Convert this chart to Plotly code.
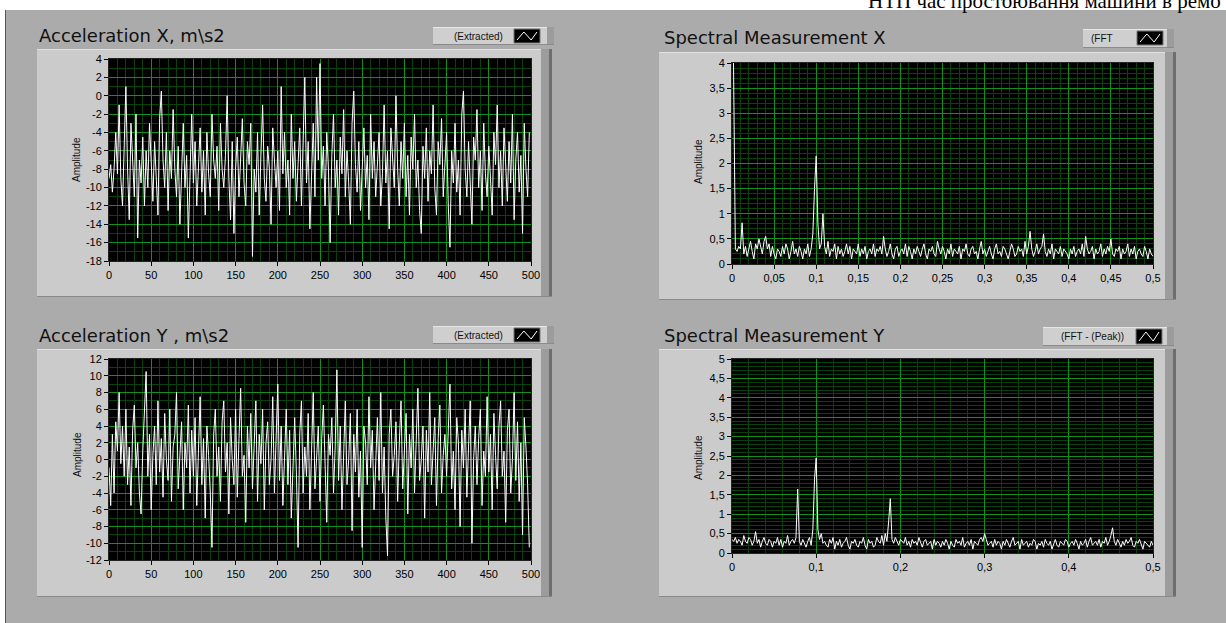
import plotly.graph_objects as go
import numpy as np

W, H = 1226, 623

# ---------------- data ----------------
accel_x = [
    -9, -7.5, -10.5, -8, -4, -8.5, -1, -9, -12, -5, 1, -8, -13.5, -3, -6.5, -11, -2, -15.5, -7, -9.5, -4.5, -12, -6, -10, -3,
    -8, -11.5, -5, -9, -13, -2.5, 0.5, -7, -10, -4, -12.5, -6, -9, -1.5, -8, -11, -5.5, -14, -7, -3, -10, -6.5, -15.5, -8, -2,
    -9.5, -5, -12, -7.5, -3.5, -10.5, -6, -13, -4, -8.5, -11, -2, -7, -9, -5.5, -12.5, -3, -8, -10, -6.5, 0, -9, -13.5, -5, -15,
    -8, -4.5, -11, -6, -2.5, -9.5, -12, -5, -7.5, -3, -17.5, -8, -10.5, -4, -13, -6.5, -1, -9, -11.5, -5.5, -8, -14, -3.5, -7, -10,
    -6, -12.5, 1, -8.5, -4, -10, -7, -13, -2, -9, -5, -11.5, -7.5, -3.5, -12, -6, 2, -9.5, -5, -14.5, -8, -3, -11, 2, -7,
    3.5, -9, -5.5, -12, -4, -8, -16, -6.5, -2, -10, -7, -13, -4.5, -8.5, -1.5, -11, -6, -9.5, -14, -3, 0.5, -7.5, -10.5, -5, -12.5,
    -8, -3.5, -10, -6.5, -13.5, -2, -9, -5, -11, -7, -4, -12, -8.5, -1, -9.5, -6, -14.5, -3.5, -7.5, -10, 0, -8, -12, -5, -9,
    -3, -11, -6.5, -13, -4.5, -8, -2, -10, -7, -12.5, -15, -5.5, -9, -3.5, -11.5, -6, -8.5, -1, -10, -13, -5, -7.5, -2.5, -11, -8,
    -4, -12, -16.5, -6, -9.5, -3, -10.5, -7, -13, -2, 0.5, -8, -11, -5, -9, -14, -4.5, -7, -1.5, -10, -6, -12.5, -3, -8.5, -11,
    -5.5, -9, -13, -4, -7.5, -1, -10, -6, -12, -3.5, -8, -11.5, -5, -9.5, -2, -13.5, -7, -4, -10.5, -6.5, -15, -3, -8, -11, -4,
]
accel_y = [
    -1, -5.5, 3, -4, 4.5, 1, 8, -0.5, 4, -2, 6, -3, 1.5, -5.5, 3.5, 6.5, -1, 2, -4, -6.5, 1, 5, 10.5, -2, 3,
    -6, 0.5, 4, -3, 7, -1.5, 2.5, -4.5, 5.5, 0, -2.5, 6, -5, 1.5, 3, 8, -3.5, 0.5, 4.5, -6, 2, -1, 6.5, -4, 3.5,
    -2, 5, -5.5, 1, 7.5, -3, 2.5, -7, 4, 0.5, -4, -10.5, 3, 6, -2, 1.5, -5, 4.5, 7, -1.5, 2, -6.5, 5, 0, -3,
    6, -4.5, 2.5, 8.5, -2, 0.5, -7.5, 4, -1, 5.5, -3.5, 1, 7, -5, 3, -0.5, 6, -6, 2, 4.5, -3, 0, 7.5, -4, 2.5,
    9, -2.5, 4, -5.5, 1, 6, -3, 3.5, -7, 0.5, 5, -1.5, -10.5, 3, 7, -4, 1.5, -2, 5.5, -6, 2, 8, -3.5, 0, 4,
    -5, 2.5, 6.5, -1, -7.5, 3, 0.5, 5, -4, 1.5, 10.7, -2.5, 4, -6, 2, 7, -3, 0, 5.5, -8.5, 3, -1.5, 6, -4.5, 1,
    -10.5, 4, 2, -3, 7.5, -1, 3.5, -6, 0.5, 5, -2.5, 8, -4, 1.5, -7, -11.5, 3, 6, -2, 0.5, 4.5, -5, 2, 7, -3.5,
    1, 5.5, -6.5, 3, -1, 6, -4, 2, 8.5, -2.5, 0, 4, -7, 3.5, -1.5, 8, -3, 1, 5, -5.5, 2.5, 6.5, -4, 0.5, 3,
    -2, 4.5, 9, -3.5, 1, -6, 5, 2, -8, 3.5, -1, 6, -4.5, 1.5, 7, -10, 0, 4, -3, 2.5, 6, -5.5, 1, -2, 7.5,
    -1.5, 3, -6, 5.5, 0.5, -3.5, 4, 7, -2, 1, -7.5, 3.5, 6, -4, 0, 8, -2.5, 4.5, -5, 2, -9, 5, 1.5, -3, -10.5,
]
spec_x = [
    7.0, 2.8, 0.3, 0.25, 0.35, 0.3, 0.82, 0.2, 0.35, 0.15, 0.3, 0.45, 0.25, 0.1, 0.4, 0.3, 0.5, 0.35, 0.2, 0.45, 0.55, 0.3, 0.4, 0.15, 0.35,
    0.2, 0.1, 0.3, 0.25, 0.15, 0.35, 0.2, 0.4, 0.3, 0.1, 0.25, 0.45, 0.2, 0.3, 0.15, 0.35, 0.25, 0.1, 0.3, 0.2, 0.4, 0.15, 0.3, 0.6, 1.5,
    2.15, 0.8, 0.3, 0.4, 1.0, 0.35, 0.2, 0.45, 0.15, 0.3, 0.25, 0.4, 0.1, 0.35, 0.2, 0.3, 0.15, 0.25, 0.4, 0.2, 0.35, 0.1, 0.3, 0.25, 0.2,
    0.4, 0.15, 0.3, 0.2, 0.35, 0.1, 0.25, 0.3, 0.2, 0.4, 0.15, 0.3, 0.25, 0.35, 0.2, 0.55, 0.3, 0.15, 0.25, 0.4, 0.2, 0.1, 0.3, 0.35, 0.15,
    0.25, 0.3, 0.2, 0.4, 0.15, 0.35, 0.25, 0.1, 0.3, 0.2, 0.35, 0.25, 0.15, 0.3, 0.4, 0.2, 0.1, 0.3, 0.25, 0.35, 0.2, 0.15, 0.45, 0.3, 0.2,
    0.35, 0.25, 0.1, 0.3, 0.2, 0.4, 0.15, 0.3, 0.25, 0.2, 0.35, 0.1, 0.3, 0.25, 0.4, 0.2, 0.15, 0.3, 0.35, 0.2, 0.25, 0.1, 0.3, 0.45, 0.2,
    0.3, 0.15, 0.25, 0.35, 0.2, 0.1, 0.3, 0.4, 0.2, 0.25, 0.15, 0.35, 0.3, 0.2, 0.1, 0.25, 0.4, 0.3, 0.15, 0.2, 0.35, 0.25, 0.3, 0.15, 0.45,
    0.2, 0.35, 0.65, 0.3, 0.15, 0.25, 0.4, 0.2, 0.3, 0.35, 0.6, 0.25, 0.15, 0.3, 0.2, 0.4, 0.1, 0.3, 0.25, 0.2, 0.35, 0.15, 0.3, 0.25, 0.2,
    0.1, 0.3, 0.2, 0.35, 0.15, 0.25, 0.3, 0.2, 0.4, 0.15, 0.55, 0.3, 0.2, 0.25, 0.35, 0.1, 0.3, 0.2, 0.25, 0.4, 0.15, 0.3, 0.2, 0.35, 0.25,
    0.5, 0.2, 0.15, 0.3, 0.25, 0.35, 0.1, 0.3, 0.2, 0.25, 0.4, 0.15, 0.3, 0.2, 0.35, 0.1, 0.25, 0.3, 0.2, 0.15, 0.35, 0.25, 0.1, 0.3, 0.2, 0.15,
]
spec_y = [
    0.35, 0.3, 0.4, 0.25, 0.35, 0.3, 0.2, 0.45, 0.3, 0.25, 0.4, 0.35, 0.2, 0.3, 0.55, 0.25, 0.35, 0.15, 0.3, 0.4, 0.25, 0.2, 0.35, 0.3, 0.15,
    0.3, 0.25, 0.4, 0.2, 0.35, 0.15, 0.3, 0.25, 0.45, 0.2, 0.3, 0.35, 0.25, 0.4, 1.65, 0.3, 0.2, 0.35, 0.25, 0.15, 0.3, 0.4, 0.2, 0.6, 1.9,
    2.45, 0.6, 0.35, 0.5, 0.25, 0.3, 0.2, 0.15, 0.35, 0.25, 0.4, 0.1, 0.3, 0.2, 0.35, 0.15, 0.25, 0.3, 0.4, 0.2, 0.1, 0.3, 0.25, 0.35, 0.2,
    0.15, 0.3, 0.25, 0.4, 0.2, 0.1, 0.35, 0.25, 0.3, 0.15, 0.2, 0.4, 0.3, 0.25, 0.45, 0.2, 0.5, 0.3, 0.8, 1.4, 0.35, 0.25, 0.4, 0.3, 0.2,
    0.35, 0.3, 0.25, 0.4, 0.2, 0.3, 0.15, 0.35, 0.25, 0.3, 0.2, 0.4, 0.25, 0.15, 0.3, 0.35, 0.2, 0.25, 0.3, 0.1, 0.35, 0.2, 0.3, 0.25, 0.15,
    0.3, 0.2, 0.35, 0.25, 0.1, 0.3, 0.2, 0.15, 0.35, 0.25, 0.3, 0.2, 0.4, 0.15, 0.25, 0.3, 0.2, 0.35, 0.1, 0.3, 0.25, 0.2, 0.35, 0.4, 0.3,
    0.5, 0.35, 0.2, 0.25, 0.3, 0.15, 0.35, 0.2, 0.3, 0.25, 0.1, 0.3, 0.2, 0.35, 0.25, 0.15, 0.3, 0.4, 0.2, 0.25, 0.3, 0.1, 0.35, 0.2, 0.25,
    0.3, 0.15, 0.25, 0.2, 0.35, 0.3, 0.1, 0.25, 0.2, 0.3, 0.15, 0.35, 0.25, 0.2, 0.3, 0.1, 0.25, 0.35, 0.2, 0.15, 0.3, 0.25, 0.2, 0.35, 0.3,
    0.15, 0.25, 0.3, 0.2, 0.35, 0.25, 0.1, 0.3, 0.2, 0.25, 0.35, 0.15, 0.3, 0.4, 0.2, 0.25, 0.3, 0.2, 0.35, 0.15, 0.3, 0.25, 0.4, 0.2, 0.3,
    0.45, 0.65, 0.3, 0.2, 0.35, 0.25, 0.15, 0.3, 0.2, 0.35, 0.25, 0.3, 0.4, 0.2, 0.15, 0.3, 0.25, 0.35, 0.2, 0.1, 0.3, 0.25, 0.2, 0.15, 0.3, 0.2,
]
time_step = 2          # samples of the acceleration records
freq_step = 0.002      # spectral bin width

titles = ["Acceleration X, m\\s2", "Spectral Measurement X",
          "Acceleration Y , m\\s2", "Spectral Measurement Y"]
legend_labels = ["(Extracted)", "(FFT", "(Extracted)", "(FFT - (Peak))"]
y_title = "Amplitude"
header_text = "НТП час простоювання машини в ремо"

time_ticks = [0, 50, 100, 150, 200, 250, 300, 350, 400, 450, 500]
time_ticklabels = ["0", "50", "100", "150", "200", "250", "300", "350", "400", "450", "500"]
freqx_ticks = [0, 0.05, 0.1, 0.15, 0.2, 0.25, 0.3, 0.35, 0.4, 0.45, 0.5]
freqx_ticklabels = ["0", "0,05", "0,1", "0,15", "0,2", "0,25", "0,3", "0,35", "0,4", "0,45", "0,5"]
freqy_ticks = [0, 0.1, 0.2, 0.3, 0.4, 0.5]
freqy_ticklabels = ["0", "0,1", "0,2", "0,3", "0,4", "0,5"]
ax_yticks = [4, 2, 0, -2, -4, -6, -8, -10, -12, -14, -16, -18]
ay_yticks = [12, 10, 8, 6, 4, 2, 0, -2, -4, -6, -8, -10, -12]
sx_yticks = [0, 0.5, 1, 1.5, 2, 2.5, 3, 3.5, 4]
sx_yticklabels = ["0", "0,5", "1", "1,5", "2", "2,5", "3", "3,5", "4"]
sy_yticks = [0, 0.5, 1, 1.5, 2, 2.5, 3, 3.5, 4, 4.5, 5]
sy_yticklabels = ["0", "0,5", "1", "1,5", "2", "2,5", "3", "3,5", "4", "4,5", "5"]

# ---------------- styling ----------------
BG = "#ababab"
PANEL = "#cbcbcb"
STRIPE = "#9c9c9c"
STRIPE_DARK = "#6e6e6e"
GRID_MAJOR = "#11901a"
GRID_MINOR = "#0a420c"
FONT = "Liberation Sans"
TITLE_FONT = "DejaVu Sans"


def fx(p):
    return p / W


def fy(p):
    return 1 - p / H


def rect(x0, y0, x1, y1, color, layer="below"):
    return dict(type="rect", xref="paper", yref="paper", x0=fx(x0), x1=fx(x1),
                y0=fy(y1), y1=fy(y0), fillcolor=color, line=dict(width=0), layer=layer)


def hline(x0, x1, y, color):
    return dict(type="line", xref="paper", yref="paper", x0=fx(x0), x1=fx(x1),
                y0=fy(y), y1=fy(y), line=dict(color=color, width=1), layer="below")


panels = [
    dict(plot=(109, 59, 531, 261), panel=(37, 49, 541, 297), legend=(433, 27, 547, 45),
         icon=(514, 29, 540, 43), title=(37, 35), amp=(77, 160), legx=478),
    dict(plot=(732, 63, 1153, 264), panel=(659, 52, 1165, 300), legend=(1083, 29, 1167, 48),
         icon=(1137, 31, 1163, 45), title=(662, 38), amp=(698, 162), legx=1102),
    dict(plot=(109, 359, 531, 560), panel=(37, 349, 541, 597), legend=(433, 326, 547, 344),
         icon=(514, 328, 540, 342), title=(37, 335), amp=(77, 455), legx=478),
    dict(plot=(732, 359, 1153, 553), panel=(659, 349, 1165, 597), legend=(1043, 327, 1167, 346),
         icon=(1136, 329, 1162, 344), title=(662, 335), amp=(698, 458), legx=1092),
]

shapes = []
# page background
shapes.append(rect(6, 10, W, H, BG))
shapes.append(dict(type="line", xref="paper", yref="paper", x0=fx(5.5), x1=fx(5.5), y0=fy(10), y1=fy(H),
                   line=dict(color="#555555", width=1), layer="below"))
for p in panels:
    x0, y0, x1, y1 = p["panel"]
    shapes.append(rect(x0, y0, x1, y1, PANEL))
    shapes.append(rect(x1, y0, x1 + 8, y1, STRIPE))
    shapes.append(rect(x1 + 8, y0, x1 + 11, y1, STRIPE_DARK))
    shapes.append(hline(x0, x1, y0 + 0.5, "#e2e2e2"))
    shapes.append(hline(x0, x1 + 11, y1 - 0.5, "#8a8a8a"))
    # black plotting area (drawn under the grid)
    px0, py0, px1, py1 = p["plot"]
    shapes.append(rect(px0, py0, px1, py1, "black"))
    lx0, ly0, lx1, ly1 = p["legend"]
    shapes.append(rect(lx0, ly0, lx1, ly1, "#cfcfcf"))
    shapes.append(rect(lx1, ly0, lx1 + 7, ly1, STRIPE))
    shapes.append(hline(lx0, lx1, ly0 + 0.5, "#e6e6e6"))
    shapes.append(hline(lx0, lx1 + 7, ly1 - 0.5, "#8a8a8a"))
    ix0, iy0, ix1, iy1 = p["icon"]
    shapes.append(rect(ix0, iy0, ix1, iy1, "black"))
    shapes.append(dict(type="rect", xref="paper", yref="paper", x0=fx(ix0), x1=fx(ix1), y0=fy(iy1), y1=fy(iy0),
                       line=dict(color="#777777", width=1), layer="below"))
    w = ix1 - ix0
    pts = [(ix0 + 3, iy1 - 3), (ix0 + w * 0.38, iy0 + 3), (ix0 + w * 0.66, iy1 - 3), (ix1 - 3, iy0 + 3)]
    path = "M " + " L ".join(f"{fx(a):.5f},{fy(b):.5f}" for a, b in pts)
    shapes.append(dict(type="path", xref="paper", yref="paper", path=path,
                       line=dict(color="white", width=1), layer="above"))

annotations = []
for p, t, lg in zip(panels, titles, legend_labels):
    annotations.append(dict(text=t, x=fx(p["title"][0]), y=fy(p["title"][1]), xref="paper", yref="paper",
                            xanchor="left", yanchor="middle", showarrow=False,
                            font=dict(family=TITLE_FONT, size=18, color="#111111")))
    annotations.append(dict(text=lg, x=fx(p["legx"]), y=fy((p["legend"][1] + p["legend"][3]) / 2),
                            xref="paper", yref="paper", xanchor="center", yanchor="middle", showarrow=False,
                            font=dict(family=FONT, size=10, color="#111111")))
    annotations.append(dict(text=y_title, x=fx(p["amp"][0]), y=fy(p["amp"][1]), xref="paper", yref="paper",
                            xanchor="center", yanchor="middle", showarrow=False, textangle=-90,
                            font=dict(family=FONT, size=10, color="#111111")))
annotations.append(dict(text=header_text, x=fx(866), y=fy(1), xref="paper", yref="paper",
                        xanchor="left", yanchor="middle", showarrow=False,
                        font=dict(family="Liberation Serif", size=21, color="black")))

fig = go.Figure()
series = [
    (np.arange(len(accel_x)) * time_step, accel_x),
    (np.arange(len(spec_x)) * freq_step, spec_x),
    (np.arange(len(accel_y)) * time_step, accel_y),
    (np.arange(len(spec_y)) * freq_step, spec_y),
]
for k, (xs, ys) in enumerate(series, start=1):
    fig.add_trace(go.Scatter(x=xs, y=ys, mode="lines", line=dict(color="white", width=1),
                             xaxis=f"x{k}", yaxis=f"y{k}", showlegend=False, hoverinfo="skip"))

axis_specs = [
    dict(xr=[0, 500], xt=time_ticks, xl=time_ticklabels, xm=10,
         yr=[-18, 4], yt=ax_yticks, yl=[str(v) for v in ax_yticks], ym=1),
    dict(xr=[0, 0.5], xt=freqx_ticks, xl=freqx_ticklabels, xm=0.01,
         yr=[0, 4], yt=sx_yticks, yl=sx_yticklabels, ym=0.1),
    dict(xr=[0, 500], xt=time_ticks, xl=time_ticklabels, xm=10,
         yr=[-12, 12], yt=ay_yticks, yl=[str(v) for v in ay_yticks], ym=1),
    dict(xr=[0, 0.5], xt=freqy_ticks, xl=freqy_ticklabels, xm=0.02,
         yr=[0, 5], yt=sy_yticks, yl=sy_yticklabels, ym=0.1),
]

common = dict(showgrid=True, gridcolor=GRID_MAJOR, gridwidth=1, zeroline=False,
              showline=True, linecolor="#222222", linewidth=1, mirror=True,
              ticks="outside", ticklen=4, tickwidth=1, tickcolor="black",
              tickfont=dict(family=FONT, size=11, color="black"), fixedrange=True,
              automargin=False)

layout_axes = {}
for k, (p, a) in enumerate(zip(panels, axis_specs), start=1):
    x0, y0, x1, y1 = p["plot"]
    xkey = "xaxis" if k == 1 else f"xaxis{k}"
    ykey = "yaxis" if k == 1 else f"yaxis{k}"
    layout_axes[xkey] = dict(common, domain=[fx(x0), fx(x1)], range=a["xr"], anchor=f"y{k}",
                             tickmode="array", tickvals=a["xt"], ticktext=a["xl"],
                             minor=dict(tickmode="linear", tick0=0, dtick=a["xm"], showgrid=True,
                                        gridcolor=GRID_MINOR, gridwidth=1, ticks=""))
    layout_axes[ykey] = dict(common, domain=[fy(y1), fy(y0)], range=a["yr"], anchor=f"x{k}",
                             tickmode="array", tickvals=a["yt"], ticktext=a["yl"],
                             minor=dict(tickmode="linear", tick0=0, dtick=a["ym"], showgrid=True,
                                        gridcolor=GRID_MINOR, gridwidth=1, ticks=""))

fig.update_layout(
    width=W, height=H, margin=dict(l=0, r=0, t=0, b=0, pad=0, autoexpand=False),
    paper_bgcolor="white", plot_bgcolor="black",
    shapes=shapes, annotations=annotations, showlegend=False,
    **layout_axes,
)
post = (
    "document.documentElement.style.overflow='hidden';"
    "document.body.style.margin='0';document.body.style.overflow='hidden';"
    "var d=document.getElementById('{plot_id}');"
    "d.style.position='fixed';d.style.left='0px';d.style.top='0px';d.style.overflow='hidden';"
)
fig.write_html("out.html", post_script=post, config={"displayModeBar": False})
